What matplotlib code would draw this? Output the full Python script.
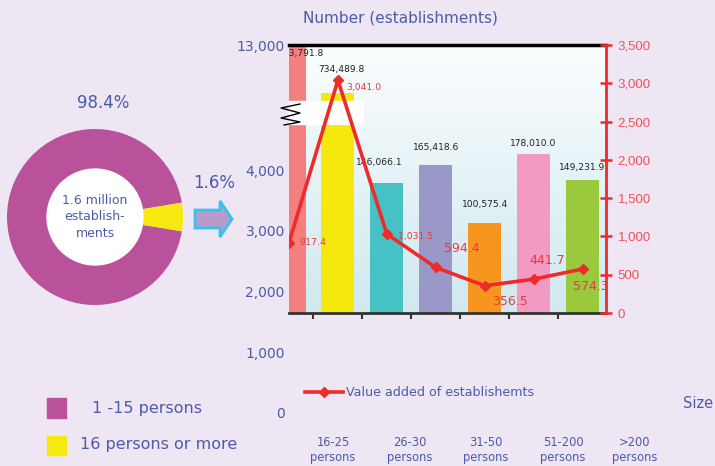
import matplotlib
matplotlib.use("Agg")
import matplotlib.pyplot as plt
import numpy as np
from matplotlib.patches import Circle, Polygon, Rectangle
from matplotlib.colors import LinearSegmentedColormap

W, H = 715, 466

# bars (heights on the drawn left scale), labels = establishments
bar_heights = [6500, 5270, 3790, 4080, 3130, 4260, 3835]
bar_labels = ["13,791.8", "734,489.8", "146,066.1", "165,418.6", "100,575.4", "178,010.0", "149,231.9"]
bar_colors = ["#f47f7f", "#f5e80c", "#46c1c4", "#9a97c9", "#f7961f", "#f29ac2", "#9bc93e"]

# value added (right axis)
value_added = [917.4, 3041.0, 1031.5, 594.4, 356.5, 441.7, 574.3]
value_labels = ["917.4", "3,041.0", "1,031.5", "594.4", "356.5", "441.7", "574.3"]

left_ticks = [0, 1000, 2000, 3000, 4000, 6058]
left_tick_labels = ["0", "1,000", "2,000", "3,000", "4,000", "13,000"]
right_ticks = [0, 500, 1000, 1500, 2000, 2500, 3000, 3500]

size_groups = ["16-25\npersons", "26-30\npersons", "31-50\npersons", "51-200\npersons", ">200\npersons"]

# donut as drawn, with its printed shares
ring_drawn = [94.8, 5.2]
ring_labels = ["98.4%", "1.6%"]
legend_groups = ["1 -15 persons", "16 persons or more"]

blue = "#4a5ba8"
red = "#ee2b2b"
red_text = "#f0505a"
red_label = "#ea3a40"
magenta = "#b9529b"
yellow = "#f5e90f"


def fx(x):
    return x / W


def fy(y):
    return 1 - y / H


fig = plt.figure(figsize=(W / 100, H / 100), dpi=100)
fig.patch.set_facecolor("#efe6f3")

# left labels (broken scale, reaches below the plot)
lab = fig.add_axes([fx(289), fy(413), 1e-4, (413 - 45) / H])
lab.set_ylim(0, 6058)
lab.set_yticks(left_ticks)
lab.set_yticklabels(left_tick_labels)
lab.set_xticks([])
for s in lab.spines.values():
    s.set_visible(False)
lab.patch.set_visible(False)
lab.tick_params(axis="y", length=0, pad=3, labelsize=10, labelcolor=blue)

# bar chart
ax = fig.add_axes([fx(289), fy(313), (606 - 289) / W, (313 - 45) / H])
grad = np.linspace(0, 1, 100).reshape(-1, 1)
cmap = LinearSegmentedColormap.from_list("bg", ["#fbfdfe", "#d0e9ef"])
ax.imshow(grad, extent=[0, 1, 0, 1], transform=ax.transAxes, aspect="auto", cmap=cmap, zorder=0)
x = np.arange(len(bar_heights))
ax.bar(x, bar_heights, width=0.675, color=bar_colors, zorder=2)
ax.set_xlim(0, 6.48)
ax.set_ylim(1646, 6058)

label_dx = [15, 3.5, -7.5, 0, 0, 0, 0]
label_dy = [-8, 23, 20, 18, 18, 11, 13]
for i, txt in enumerate(bar_labels):
    top = min(bar_heights[i], 6058)
    ax.annotate(txt, (x[i], top), xytext=(label_dx[i] * 0.72, label_dy[i] * 0.72),
                textcoords="offset points", ha="center", va="center",
                fontsize=6.6, color="#222222", zorder=4, clip_on=True)

ax.set_xticks(x[:-1] + 0.5)
ax.set_xticklabels([])
ax.set_yticks([])
ax.tick_params(axis="x", direction="out", length=4, width=1.5, color="#333333")
ax.spines["left"].set_visible(False)
ax.spines["right"].set_visible(False)
ax.spines["top"].set_linewidth(2.5)
ax.spines["bottom"].set_linewidth(2)
ax.spines["bottom"].set_color("#333333")

# axis break: white band and zigzag
ax.add_patch(Rectangle((fx(289), fy(124)), (363 - 289) / W, (124 - 101) / H,
                       transform=fig.transFigure, color="white", zorder=5, clip_on=False))
zig = [(300, 104), (281, 108), (300, 113), (281, 118), (300, 122), (284, 125)]
ax.plot([fx(p[0]) for p in zig], [fy(p[1]) for p in zig], color="black", lw=1,
        transform=fig.transFigure, clip_on=False, zorder=6)

# value added line
ax2 = ax.twinx()
ax2.set_ylim(0, 3500)
line, = ax2.plot(x, value_added, color=red, lw=2.6, marker="D", ms=5.5, zorder=3)
ax2.set_yticks(right_ticks)
ax2.set_yticklabels([f"{v:,}" for v in right_ticks])
for t in ax2.get_yticklabels():
    t.set_fontfamily("Liberation Sans")
ax2.tick_params(axis="y", direction="inout", length=9, width=1.8, color=red,
                labelcolor=red_text, pad=4, labelsize=9.5)
for s in ["top", "bottom", "left"]:
    ax2.spines[s].set_visible(False)
ax2.spines["right"].set_color(red)
ax2.spines["right"].set_linewidth(2)

val_dx = [10, 8, 11, 8, 7, -4, -10]
val_dy = [0, -7, -2, 19, -16, 19, -17]
val_size = [6.8, 6.7, 6.7, 9, 9, 9, 9]
for i, txt in enumerate(value_labels):
    ax2.annotate(txt, (x[i], value_added[i]), xytext=(val_dx[i] * 0.72, val_dy[i] * 0.72),
                 textcoords="offset points", ha="left", va="center",
                 fontsize=val_size[i], color=red_label)

fig.legend(handles=[line], labels=["Value added of establishemts"], loc="center left",
           bbox_to_anchor=(fx(305), fy(393)), frameon=False, fontsize=9.1, labelcolor=blue,
           handlelength=3.0, handletextpad=0.25, borderpad=0, borderaxespad=0)

# donut
dax = fig.add_axes([fx(7), fy(305), 176 / W, 176 / H])
dax.pie(ring_drawn, colors=[magenta, yellow], startangle=-ring_drawn[1] * 1.8,
        counterclock=False, wedgeprops=dict(linewidth=0))
dax.add_patch(Circle((0, 0), 0.545, color="white", zorder=3))
dax.set_xlim(-1, 1)
dax.set_ylim(-1, 1)
dax.text(0, 0, "1.6 million\nestablish-\nments", ha="center", va="center",
         fontsize=9, color=blue, linespacing=1.35, zorder=4)

fig.text(fx(103), fy(103), ring_labels[0], ha="center", va="center", fontsize=12, color=blue)
fig.text(fx(214), fy(183), ring_labels[1], ha="center", va="center", fontsize=12, color=blue)

arrow = [(195, 210), (220, 210), (220, 201), (232, 219), (220, 237), (220, 228), (195, 228)]
fig.patches.append(Polygon([(fx(a), fy(b)) for a, b in arrow], closed=True,
                           transform=fig.transFigure, facecolor="#b89bcb",
                           edgecolor="#37c1ee", lw=2))

# legend squares for the donut
fig.patches.append(Rectangle((fx(47), fy(418)), 19 / W, 20 / H, transform=fig.transFigure, color=magenta))
fig.patches.append(Rectangle((fx(47), fy(455)), 19 / W, 19 / H, transform=fig.transFigure, color=yellow))
fig.text(fx(92), fy(408), legend_groups[0], ha="left", va="center", fontsize=11.5, color=blue)
fig.text(fx(80), fy(445), legend_groups[1], ha="left", va="center", fontsize=11.5, color=blue)

fig.text(fx(400), fy(18), "Number (establishments)", ha="center", va="center", fontsize=11, color=blue)
fig.text(fx(698), fy(404), "Size", ha="center", va="center", fontsize=10.5, color=blue)

for cx, g in zip([333, 410, 486, 563, 635], size_groups):
    fig.text(fx(cx), fy(450), g, ha="center", va="center", fontsize=8.3,
             color=blue, linespacing=1.15)

fig.savefig("out.png", dpi=100, facecolor=fig.get_facecolor())
